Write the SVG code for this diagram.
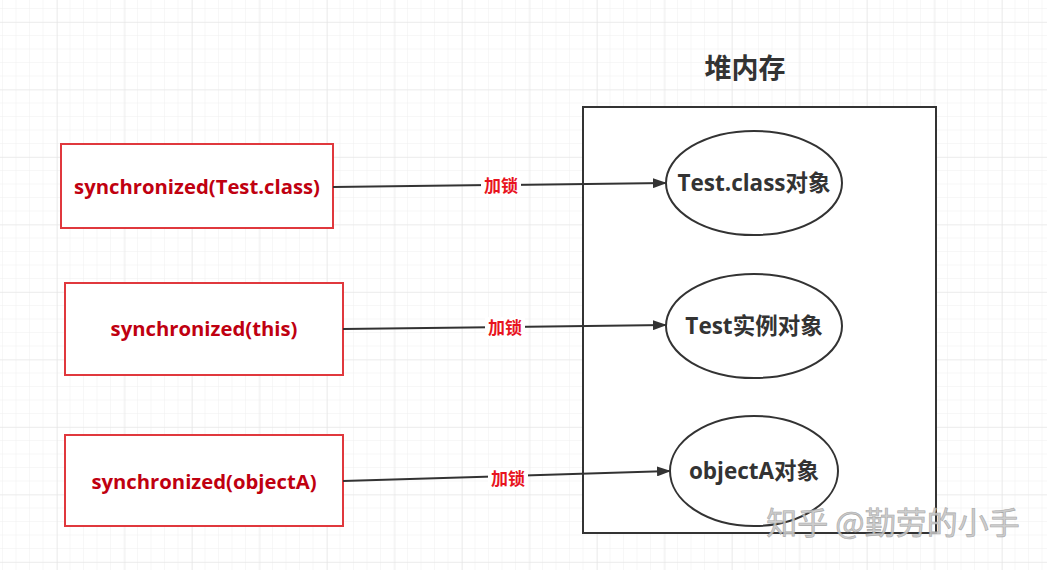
<svg xmlns="http://www.w3.org/2000/svg" width="1047" height="570" viewBox="0 0 1047 570">
<defs>
<pattern id="minor" width="13.5" height="13.5" patternUnits="userSpaceOnUse" x="3" y="9">
<path d="M13.5 0V13.5M0 13.5H13.5" fill="none" stroke="#f0f0f0" stroke-width="1"/>
</pattern>
<pattern id="major" width="67.5" height="67.5" patternUnits="userSpaceOnUse" x="57" y="22">
<path d="M0 0V67.5M0 0H67.5" fill="none" stroke="#e4e4e4" stroke-width="1"/>
</pattern>
<marker id="arr" markerWidth="14" markerHeight="10" refX="13" refY="5" orient="auto" markerUnits="userSpaceOnUse">
<path d="M0 0L14 5L0 10Z" fill="#333"/>
</marker>
<style>
.src{fill:#fff;stroke:#e0383d;stroke-width:2}
.srct{font-family:"Open Sans","Noto Sans CJK SC",sans-serif;font-weight:bold;font-size:20.3px;fill:#c00010;text-anchor:middle}
.obj{fill:#fff;stroke:#333;stroke-width:2}
.objt{font-family:"Open Sans","Noto Sans CJK SC",sans-serif;font-weight:bold;font-size:22.5px;fill:#333;text-anchor:middle}
.edge{fill:none;stroke:#333;stroke-width:2;marker-end:url(#arr)}
.lbl{font-family:"Noto Sans CJK SC",sans-serif;font-weight:bold;font-size:17px;fill:#e8141e;text-anchor:middle}
.lblbg{fill:#fff}
</style>
</defs>
<rect width="1047" height="570" fill="#fff"/>
<rect width="1047" height="570" fill="url(#minor)"/>
<rect width="1047" height="570" fill="url(#major)"/>

<g id="heap">
<rect x="583" y="107" width="353" height="426" fill="#fff" stroke="#333" stroke-width="2"/>
<text x="745" y="78" font-family="Noto Sans CJK SC,sans-serif" font-weight="bold" font-size="27" fill="#333" text-anchor="middle">堆内存</text>
</g>

<g id="src1">
<rect class="src" x="61" y="144" width="272" height="84"/>
<text class="srct" x="197" y="194">synchronized(Test.class)</text>
</g>
<g id="src2">
<rect class="src" x="65" y="283" width="278" height="92"/>
<text class="srct" x="204" y="336">synchronized(this)</text>
</g>
<g id="src3">
<rect class="src" x="65" y="435" width="278" height="91"/>
<text class="srct" x="204" y="489">synchronized(objectA)</text>
</g>

<g id="obj1">
<ellipse class="obj" cx="754" cy="183" rx="88" ry="52"/>
<text class="objt" x="754" y="191">Test.class对象</text>
</g>
<g id="obj2">
<ellipse class="obj" cx="754" cy="326" rx="88" ry="52"/>
<text class="objt" x="754" y="334">Test实例对象</text>
</g>
<g id="obj3">
<ellipse class="obj" cx="754" cy="471" rx="84" ry="55"/>
<text class="objt" x="754" y="479">objectA对象</text>
</g>

<g id="connectors">
<path class="edge" d="M333 187L666 183"/>
<rect class="lblbg" x="481" y="175" width="40" height="22"/>
<text class="lbl" x="501" y="192">加锁</text>
<path class="edge" d="M343 329L666 325"/>
<rect class="lblbg" x="485" y="317" width="40" height="22"/>
<text class="lbl" x="505" y="334">加锁</text>
<path class="edge" d="M343 481L670 471"/>
<rect class="lblbg" x="488" y="468" width="40" height="22"/>
<text class="lbl" x="508" y="485">加锁</text>
</g>

<text x="893" y="534" font-family="Noto Sans CJK SC,sans-serif" font-size="31" fill="#c8c8c8" stroke="#a0a0a0" stroke-width="0.6" text-anchor="middle" opacity="0.9">知乎 @勤劳的小手</text>
</svg>
